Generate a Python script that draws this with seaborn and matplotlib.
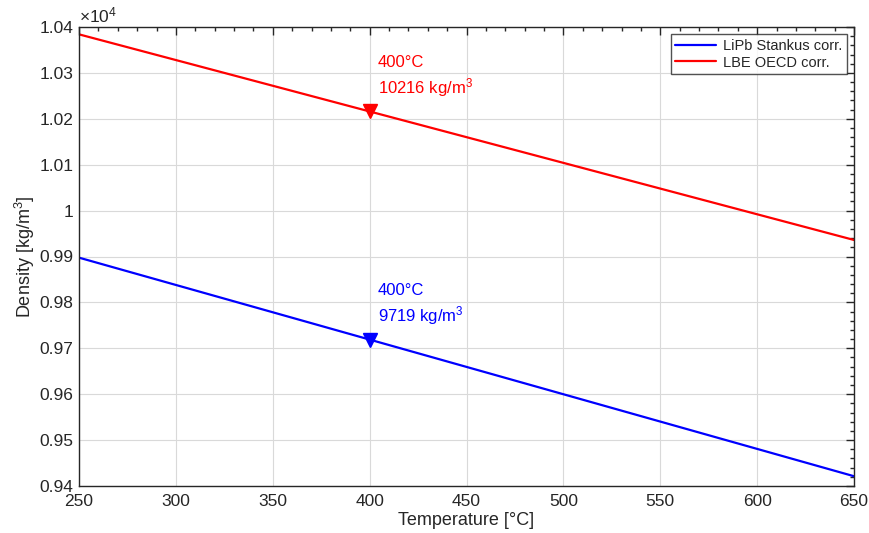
import numpy as np
import pandas as pd
import matplotlib
matplotlib.use("Agg")
import matplotlib.pyplot as plt
from matplotlib.ticker import MultipleLocator, FuncFormatter
import seaborn as sns

# Temperatures [°C] and correlation densities [kg/m^3]
temperature = [250, 400, 650]
lipb_density = [9897.5, 9719, 9421.3]
lbe_density = [10384, 10216, 9936]
series_names = ["LiPb Stankus corr.", "LBE OECD corr."]
marker_temperature = 400

sns.set_style("white")
plt.rcParams["font.family"] = ["Liberation Sans", "DejaVu Sans"]
plt.rcParams["mathtext.fontset"] = "custom"
plt.rcParams["mathtext.rm"] = "Liberation Sans"
plt.rcParams["mathtext.it"] = "Liberation Sans:italic"

df = pd.DataFrame({
    "T": temperature * 2,
    "rho": lipb_density + lbe_density,
    "corr": [series_names[0]] * 3 + [series_names[1]] * 3,
})

fig = plt.figure(figsize=(8.69, 5.33), dpi=100)
ax = fig.add_axes([79 / 869, 1 - 486 / 533, 775 / 869, 459 / 533])

palette = {series_names[0]: "#0000ff", series_names[1]: "#ff0000"}
sns.lineplot(data=df, x="T", y="rho", hue="corr", palette=palette,
             linewidth=1.6, ax=ax)

for name, dens in zip(series_names, [lipb_density, lbe_density]):
    rho400 = dens[temperature.index(marker_temperature)]
    color = palette[name]
    ax.plot([marker_temperature], [rho400], marker="v", color=color,
            markersize=10, linestyle="none")
    ax.annotate(f"{marker_temperature}°C", (marker_temperature, rho400),
                xytext=(6, 35.5), textcoords="offset points",
                color=color, fontsize=12, va="center", ha="left")
    ax.annotate(f"{rho400:.0f} kg/m$^3$", (marker_temperature, rho400),
                xytext=(6, 17.5), textcoords="offset points",
                color=color, fontsize=12, va="center", ha="left")

ax.set_xlim(250, 650)
ax.set_ylim(9400, 10400)
ax.xaxis.set_major_locator(MultipleLocator(50))
ax.xaxis.set_minor_locator(MultipleLocator(10))
ax.yaxis.set_major_locator(MultipleLocator(100))
ax.yaxis.set_minor_locator(MultipleLocator(20))
ax.yaxis.set_major_formatter(FuncFormatter(lambda v, p: f"{v / 1e4:g}"))

ax.grid(True, which="major", color="#d9d9d9", linewidth=0.8)
ax.tick_params(which="both", direction="in", top=True, right=True,
               labelsize=12.5, colors="#262626", width=1.0)
ax.tick_params(which="major", length=6)
ax.tick_params(which="minor", length=3)
ax.tick_params(axis="x", which="major", pad=6)
ax.tick_params(axis="y", which="major", pad=4)
for s in ax.spines.values():
    s.set_color("#262626")
    s.set_linewidth(1.0)

ax.set_xlabel("Temperature [°C]", fontsize=13, color="#262626", labelpad=2)
ax.set_ylabel("Density [kg/m$^3$]", fontsize=13, color="#262626", labelpad=2)
ax.text(0.0, 1.003, r"$\times$10$^4$", transform=ax.transAxes,
        fontsize=12.5, color="#262626", ha="left", va="bottom")

leg = ax.legend(loc="upper right", fontsize=10.5, frameon=True, fancybox=False,
                borderpad=0.3, handlelength=2.8, labelspacing=0.2,
                borderaxespad=0.5, handletextpad=0.5)
leg.set_title(None)
leg.get_frame().set_edgecolor("#262626")
leg.get_frame().set_linewidth(1.0)

fig.savefig("out.png", dpi=100)
